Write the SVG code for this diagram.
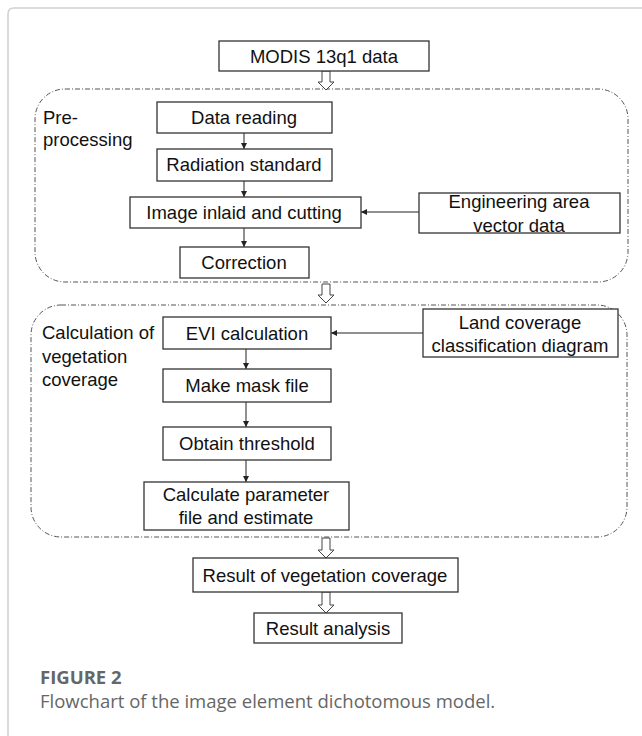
<svg xmlns="http://www.w3.org/2000/svg" width="642" height="736" viewBox="0 0 642 736">
<defs>
<style>
.bx{fill:#fff;stroke:#333;stroke-width:1.3}
.t{font-family:"Liberation Sans",Arial,sans-serif;font-size:18.5px;fill:#111}
.c{text-anchor:middle}
.grp{fill:none;stroke:#555;stroke-width:1;stroke-dasharray:5 2 1 2}
.ln{stroke:#222;stroke-width:1;fill:none}
.ha{fill:#fff;stroke:#444;stroke-width:1}
.cap{font-family:"Open Sans","Noto Sans",sans-serif;fill:#666}
</style>
<marker id="ah" viewBox="0 0 10 10" refX="10" refY="5" markerWidth="6" markerHeight="6" orient="auto" markerUnits="userSpaceOnUse">
<path d="M0,0 L10,5 L0,10 z" fill="#222"/>
</marker>
</defs>
<rect width="642" height="736" fill="#fff"/>
<path d="M8,736 V14 Q8,8 14,8 H642" fill="none" stroke="#d0d0d0" stroke-width="1.5"/>

<g id="group-preprocessing">
<rect class="grp" x="35" y="89" width="593" height="193" rx="30"/>
<text class="t" x="43" y="124">Pre-</text>
<text class="t" x="43" y="146">processing</text>
</g>
<g id="group-calculation">
<rect class="grp" x="31" y="305" width="596" height="232" rx="30"/>
<text class="t" x="42" y="339">Calculation of</text>
<text class="t" x="42" y="363">vegetation</text>
<text class="t" x="42" y="386">coverage</text>
</g>

<g id="connectors">
<path class="ha" d="M322,71 V82 H318 L326,90 L334,82 H330 V71 Z"/>
<line class="ln" x1="244" y1="133" x2="244" y2="149" marker-end="url(#ah)"/>
<line class="ln" x1="244" y1="181" x2="244" y2="197" marker-end="url(#ah)"/>
<line class="ln" x1="419" y1="212" x2="361" y2="212" marker-end="url(#ah)"/>
<line class="ln" x1="244" y1="228" x2="244" y2="247" marker-end="url(#ah)"/>
<path class="ha" d="M322,284 V295 H318 L326,303 L334,295 H330 V284 Z"/>
<line class="ln" x1="423" y1="333" x2="331" y2="333" marker-end="url(#ah)"/>
<line class="ln" x1="246" y1="349" x2="246" y2="369" marker-end="url(#ah)"/>
<line class="ln" x1="246" y1="402" x2="246" y2="427" marker-end="url(#ah)"/>
<line class="ln" x1="246" y1="460" x2="246" y2="482" marker-end="url(#ah)"/>
<path class="ha" d="M322,538 V550 H318 L326,558 L334,550 H330 V538 Z"/>
<path class="ha" d="M322,592 V605 H318 L326,613 L334,605 H330 V592 Z"/>
</g>

<g id="node-modis">
<rect class="bx" x="219" y="41" width="210" height="30"/>
<text class="t c" x="324" y="63">MODIS 13q1 data</text>
</g>
<g id="node-data-reading">
<rect class="bx" x="157" y="102" width="175" height="31"/>
<text class="t c" x="244" y="124">Data reading</text>
</g>
<g id="node-radiation">
<rect class="bx" x="157" y="149" width="175" height="32"/>
<text class="t c" x="244" y="171">Radiation standard</text>
</g>
<g id="node-image">
<rect class="bx" x="130" y="197" width="231" height="31"/>
<text class="t c" x="244" y="219">Image inlaid and cutting</text>
</g>
<g id="node-engineering">
<rect class="bx" x="419" y="193" width="201" height="40"/>
<text class="t c" x="519" y="208">Engineering area</text>
<text class="t c" x="519" y="232">vector data</text>
</g>
<g id="node-correction">
<rect class="bx" x="180" y="247" width="129" height="31"/>
<text class="t c" x="244" y="269">Correction</text>
</g>
<g id="node-land">
<rect class="bx" x="423" y="309" width="195" height="48"/>
<text class="t c" x="520" y="329">Land coverage</text>
<text class="t c" x="520" y="352">classification diagram</text>
</g>
<g id="node-evi">
<rect class="bx" x="163" y="317" width="168" height="32"/>
<text class="t c" x="247" y="340">EVI calculation</text>
</g>
<g id="node-mask">
<rect class="bx" x="163" y="369" width="168" height="33"/>
<text class="t c" x="247" y="392">Make mask file</text>
</g>
<g id="node-threshold">
<rect class="bx" x="163" y="427" width="168" height="33"/>
<text class="t c" x="247" y="450">Obtain threshold</text>
</g>
<g id="node-parameter">
<rect class="bx" x="144" y="482" width="205" height="48"/>
<text class="t c" x="246" y="501">Calculate parameter</text>
<text class="t c" x="246" y="524">file and estimate</text>
</g>
<g id="node-result">
<rect class="bx" x="193" y="558" width="265" height="34"/>
<text class="t c" x="325" y="582">Result of vegetation coverage</text>
</g>
<g id="node-analysis">
<rect class="bx" x="254" y="613" width="148" height="30"/>
<text class="t c" x="328" y="635">Result analysis</text>
</g>

<text class="cap" x="40" y="684" font-size="18.5" font-weight="bold">FIGURE 2</text>
<text class="cap" x="40" y="708" font-size="18.5">Flowchart of the image element dichotomous model.</text>
</svg>
